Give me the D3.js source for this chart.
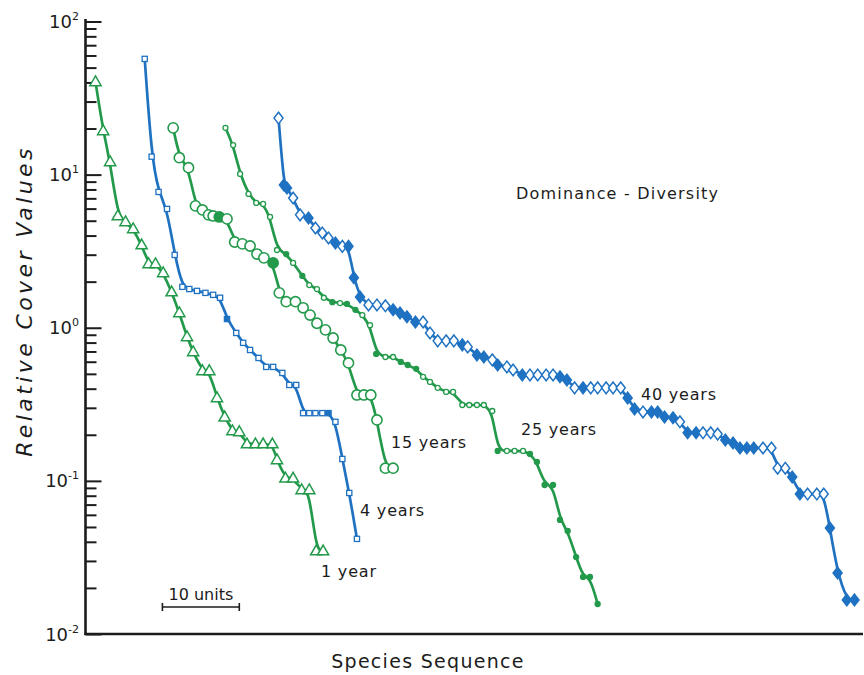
<!DOCTYPE html>
<html><head><meta charset="utf-8">
<script src="https://cdn.jsdelivr.net/npm/d3@7"></script>
<style>body{margin:0;background:#fff}svg{display:block}</style>
</head><body><svg id="c" width="864" height="675"></svg>
<script>
// ---------- data (species rank along sequence, relative cover value) ----------
const yr1Rank  = [1.3,2.3,3.2,4.2,5.2,6.2,7.3,8.2,9.1,10.1,11.2,12.2,13.2,14.0,15.2,16.1,17.1,18.1,19.1,20.0,21.0,22.1,23.1,24.3,24.9,26.0,27.0,28.1,29.1,30.0,30.9];
const yr1Value = [40.3,19.3,12.1,5.37,4.91,4.42,3.47,2.61,2.61,2.28,1.71,1.25,0.871,0.695,0.523,0.523,0.348,0.261,0.212,0.209,0.174,0.174,0.174,0.174,0.137,0.104,0.104,0.0873,0.0873,0.0348,0.0348];
const yr1Filled = [];

const yr4Rank  = [7.7,8.6,9.5,10.6,11.6,12.6,13.5,14.5,15.6,16.6,17.5,18.4,19.6,20.5,21.4,22.5,23.5,24.4,25.6,26.5,27.4,28.3,29.1,29.9,30.8,31.6,32.5,33.4,34.3,35.3];
const yr4Value = [57.0,13.1,7.71,5.97,2.99,1.85,1.79,1.74,1.69,1.64,1.57,1.14,0.925,0.797,0.716,0.635,0.555,0.555,0.507,0.423,0.423,0.277,0.277,0.277,0.277,0.277,0.243,0.139,0.0834,0.0418];
const yr4Filled = [11,25];

const yr15Rank  = [11.4,12.2,13.4,14.3,15.2,16.0,16.6,17.4,18.4,19.4,20.4,21.4,22.3,23.2,24.4,25.2,26.1,27.3,28.3,29.2,30.1,31.2,32.2,33.2,34.2,35.3,36.2,37.1,37.9,39.0,40.0];
const yr15Value = [20.2,12.9,11.1,6.25,5.88,5.46,5.37,5.29,5.14,3.63,3.53,3.42,3.03,2.86,2.65,1.69,1.48,1.48,1.35,1.21,1.07,0.969,0.857,0.716,0.589,0.364,0.364,0.364,0.250,0.121,0.121];
const yr15Filled = [7,14];

const yr25Rank  = [18.2,19.2,20.1,21.2,22.2,23.1,24.0,24.9,26.1,27.0,28.2,29.1,30.1,31.0,32.1,33.1,34.0,35.1,36.0,37.0,37.8,39.0,40.0,41.0,41.9,43.0,43.9,44.8,45.8,46.9,47.8,49.0,49.9,50.9,51.8,52.9,53.6,54.8,55.8,56.9,57.8,58.7,59.7,60.8,61.7,62.7,63.8,64.7,65.6,66.6];
const yr25Value = [20.2,15.6,10.1,7.48,6.53,6.44,5.29,3.22,3.03,2.65,2.18,1.90,1.79,1.57,1.47,1.45,1.43,1.31,1.21,1.04,0.675,0.644,0.644,0.598,0.571,0.539,0.478,0.443,0.405,0.381,0.381,0.313,0.313,0.313,0.313,0.286,0.157,0.157,0.157,0.157,0.150,0.133,0.094,0.094,0.0556,0.0471,0.0318,0.0236,0.0236,0.0157];
const yr25Filled = [8,10,14,16,17,20,23,24,25,36,40,41,42,43,44,45,46,47,48,49];

const yr40Rank  = [25.1,25.8,26.2,27.0,27.9,29.0,29.9,30.8,31.6,32.5,33.4,34.2,34.9,35.7,36.8,37.9,39.0,40.0,40.9,41.8,42.9,43.9,44.8,45.8,46.9,47.9,49.0,49.7,50.9,51.8,52.9,53.6,54.8,55.6,56.8,57.8,58.8,59.9,60.8,61.7,62.6,63.6,64.7,65.7,66.6,67.7,68.6,69.6,70.5,71.4,72.5,73.6,74.4,75.3,76.4,77.3,78.3,79.4,80.3,81.3,82.2,83.2,84.2,85.1,86.0,86.9,88.1,89.2,90.0,91.0,91.9,92.9,93.9,95.1,96.0,96.8,97.8,99.0,100.0];
const yr40Value = [23.4,8.57,8.19,7.04,5.46,5.21,4.48,4.16,3.86,3.58,3.40,3.40,2.12,1.59,1.41,1.41,1.39,1.31,1.25,1.18,1.09,1.09,0.925,0.821,0.821,0.821,0.773,0.750,0.664,0.644,0.617,0.571,0.555,0.530,0.492,0.492,0.492,0.492,0.492,0.478,0.456,0.405,0.405,0.405,0.405,0.405,0.405,0.405,0.348,0.295,0.282,0.282,0.282,0.261,0.258,0.243,0.206,0.206,0.206,0.206,0.202,0.185,0.177,0.164,0.164,0.164,0.164,0.164,0.121,0.121,0.106,0.082,0.082,0.082,0.082,0.0492,0.0250,0.0167,0.0167];
const yr40Filled = [1,2,5,9,11,12,13,17,18,19,20,26,28,29,31,34,39,40,42,48,49,51,52,53,54,56,57,61,62,63,64,65,70,71,75,76,77,78];

const seriesNames = ["1 year","4 years","15 years","25 years","40 years"];
const yTickValues = [0.01,0.1,1,10,100];
const yTickExponents = ["-2","-1","0","1","2"];
const chartTitle = "Dominance - Diversity";
const xTitle = "Species Sequence";
const yTitle = "Relative Cover Values";
const scaleBarUnits = 10;

// ---------- styles / layout ----------
const GREEN = "#239a4b", BLUE = "#1f72c2", INK = "#1c1c1c";
const FONT = "'DejaVu Sans', sans-serif";
const svg = d3.select("#c");
const x0 = 85.5, yBottom = 634;
const x = d3.scaleLinear().domain([0, 101]).range([x0, x0 + 7.69 * 101]);
const y = d3.scaleLog().domain([0.01, 100]).range([yBottom, 21.5]);

const series = [
  {name: seriesNames[0], rank: yr1Rank,  value: yr1Value,  filled: yr1Filled,  color: GREEN, shape: "tri"},
  {name: seriesNames[1], rank: yr4Rank,  value: yr4Value,  filled: yr4Filled,  color: BLUE,  shape: "sq"},
  {name: seriesNames[2], rank: yr15Rank, value: yr15Value, filled: yr15Filled, color: GREEN, shape: "bigc"},
  {name: seriesNames[3], rank: yr25Rank, value: yr25Value, filled: yr25Filled, color: GREEN, shape: "smc"},
  {name: seriesNames[4], rank: yr40Rank, value: yr40Value, filled: yr40Filled, color: BLUE,  shape: "dia"}
];
const labelPos = [[321,577],[360,516],[391,448],[521,435],[641,400]];

// axes lines
svg.append("line").attr("x1", x0).attr("x2", x0).attr("y1", 19).attr("y2", yBottom + 1)
  .attr("stroke", INK).attr("stroke-width", 2.6);
svg.append("line").attr("x1", x0 - 1).attr("x2", 863).attr("y1", yBottom).attr("y2", yBottom)
  .attr("stroke", INK).attr("stroke-width", 2.6);

// y ticks (inward)
const minorVals = [];
[0.01,0.1,1,10].forEach(d => { for (let k = 2; k <= 9; k++) minorVals.push(d * k); });
const gMaj = svg.append("g").attr("transform", `translate(${x0},0)`)
  .call(d3.axisRight(y).tickValues(yTickValues).tickSize(16).tickFormat(""));
const gMin = svg.append("g").attr("transform", `translate(${x0},0)`)
  .call(d3.axisRight(y).tickValues(minorVals).tickSize(11).tickFormat(""));
[gMaj, gMin].forEach(g => {
  g.select(".domain").remove();
  g.selectAll(".tick line").attr("stroke", INK).attr("stroke-width", 2);
});

// y tick labels with superscripts
yTickValues.forEach((v, i) => {
  const t = svg.append("text").attr("x", 79).attr("y", y(v) + 6.5)
    .attr("text-anchor", "end").attr("font-family", FONT).attr("font-size", 18).attr("fill", INK);
  t.append("tspan").text("10");
  t.append("tspan").attr("dy", -8).attr("font-size", 11).text(yTickExponents[i]);
});

// titles
svg.append("text").attr("transform", "translate(32,301) rotate(-90)")
  .attr("text-anchor", "middle").attr("font-family", FONT).attr("font-style", "italic")
  .attr("font-size", 22).attr("letter-spacing", 3.4).attr("fill", INK).text(yTitle);
svg.append("text").attr("x", 428).attr("y", 668).attr("text-anchor", "middle")
  .attr("font-family", FONT).attr("font-size", 19).attr("letter-spacing", 1.3).attr("fill", INK).text(xTitle);
svg.append("text").attr("x", 516).attr("y", 199).attr("font-family", FONT)
  .attr("font-size", 16).attr("letter-spacing", 1.2).attr("fill", INK).text(chartTitle);

// scale bar
const sb0 = x(10), sb1 = x(10 + scaleBarUnits), sby = 607;
svg.append("line").attr("x1", sb0).attr("x2", sb1).attr("y1", sby).attr("y2", sby).attr("stroke", INK).attr("stroke-width", 1.6);
[sb0, sb1].forEach(px => svg.append("line").attr("x1", px).attr("x2", px).attr("y1", sby - 4).attr("y2", sby + 4).attr("stroke", INK).attr("stroke-width", 1.6));
svg.append("text").attr("x", (sb0 + sb1) / 2).attr("y", 600).attr("text-anchor", "middle")
  .attr("font-family", FONT).attr("font-size", 16).attr("fill", INK).text(scaleBarUnits + " units");

// lines
const line = d3.line().x(d => x(d.r)).y(d => y(d.v)).curve(d3.curveBasis);
series.forEach(s => {
  s.pts = s.rank.map((r, i) => ({r, v: s.value[i], f: s.filled.includes(i)}));
  svg.append("path").datum(s.pts).attr("d", line).attr("fill", "none")
    .attr("stroke", s.color).attr("stroke-width", 2.7).attr("stroke-linecap", "round");
});

// markers
const shapePath = {
  tri: "M0,-6L5.6,3.8L-5.6,3.8Z",
  dia: "M0,-5.8L4.5,0L0,5.8L-4.5,0Z"
};
series.forEach(s => {
  const g = svg.append("g");
  s.pts.forEach(p => {
    const cx = x(p.r), cy = y(p.v);
    const fill = p.f ? s.color : "#fff";
    if (s.shape === "tri" || s.shape === "dia") {
      g.append("path").attr("d", shapePath[s.shape]).attr("transform", `translate(${cx},${cy})`)
        .attr("fill", fill).attr("stroke", s.color).attr("stroke-width", 1.5);
    } else if (s.shape === "sq") {
      g.append("rect").attr("x", cx - 2.6).attr("y", cy - 2.6).attr("width", 5.2).attr("height", 5.2)
        .attr("fill", fill).attr("stroke", s.color).attr("stroke-width", 1.3);
    } else if (s.shape === "bigc") {
      g.append("circle").attr("cx", cx).attr("cy", cy).attr("r", 5.1)
        .attr("fill", fill).attr("stroke", s.color).attr("stroke-width", 1.6);
    } else {
      g.append("circle").attr("cx", cx).attr("cy", cy).attr("r", 2.5)
        .attr("fill", fill).attr("stroke", s.color).attr("stroke-width", 1.3);
    }
  });
});

// series labels
series.forEach((s, i) => {
  svg.append("text").attr("x", labelPos[i][0]).attr("y", labelPos[i][1])
    .attr("font-family", FONT).attr("font-size", 16).attr("letter-spacing", 0.8)
    .attr("fill", INK).text(s.name);
});
</script>
</body></html>
